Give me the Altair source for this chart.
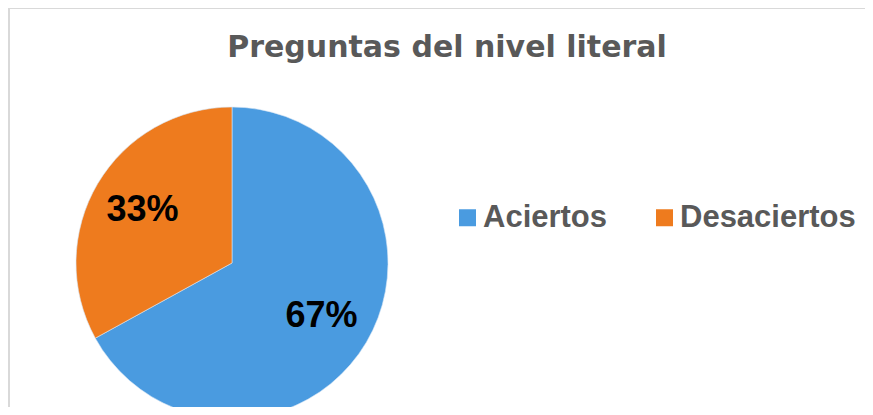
import altair as alt
import pandas as pd

title_text = ["Preguntas del nivel literal"]
categories = ["Aciertos", "Desaciertos"]
values = [67, 33]
labels = ["67%", "33%"]
colors = ["#4A9BE0", "#EE7B1E"]

df = pd.DataFrame({"cat": categories, "val": values, "label": labels, "order": [0, 1]})
tdf = pd.DataFrame({"t": title_text})

cx, cy, R = 224, 255, 156

base = alt.Chart(df).encode(
    theta=alt.Theta("val:Q", stack=True),
    order=alt.Order("order:Q"),
    x=alt.value(cx),
    y=alt.value(cy),
)

pie = base.mark_arc(outerRadius=R, stroke="#d6e6f5", strokeWidth=0.6).encode(
    color=alt.Color(
        "cat:N",
        scale=alt.Scale(domain=categories, range=colors),
        sort=categories,
        legend=alt.Legend(
            title=None,
            orient="none",
            legendX=444,
            legendY=194,
            direction="horizontal",
            symbolType="square",
            symbolSize=289,
            symbolStrokeWidth=0,
            labelFont="Liberation Sans",
            labelFontWeight="bold",
            labelFontSize=31,
            labelColor="#595959",
            labelOffset=0,
            columnPadding=41,
            padding=0,
            labelLimit=400,
        ),
    )
)

text = base.mark_text(
    radius=104,
    font="Liberation Sans",
    fontWeight="bold",
    fontSize=36,
    color="#000000",
    align="center",
    baseline="middle",
).encode(text="label:N")

title = alt.Chart(tdf).mark_text(
    font="DejaVu Sans",
    fontWeight="bold",
    fontSize=30,
    color="#595959",
    align="center",
    baseline="alphabetic",
).encode(text="t:N", x=alt.value(439), y=alt.value(49))

border_top = alt.Chart(tdf).mark_rule(color="#d9d9d9", strokeWidth=2).encode(
    x=alt.value(1), x2=alt.value(857), y=alt.value(0)
)
border_left = alt.Chart(tdf).mark_rule(color="#d9d9d9", strokeWidth=2).encode(
    x=alt.value(1), y=alt.value(0), y2=alt.value(399)
)

chart = (
    alt.layer(border_top, border_left, pie, text, title)
    .properties(width=857, height=399, autosize=alt.AutoSizeParams(type="none"), padding=0)
    .configure_view(stroke=None)
    .configure(background="#ffffff")
)

chart.save("out.html", embed_options={"renderer": "svg", "actions": False})
